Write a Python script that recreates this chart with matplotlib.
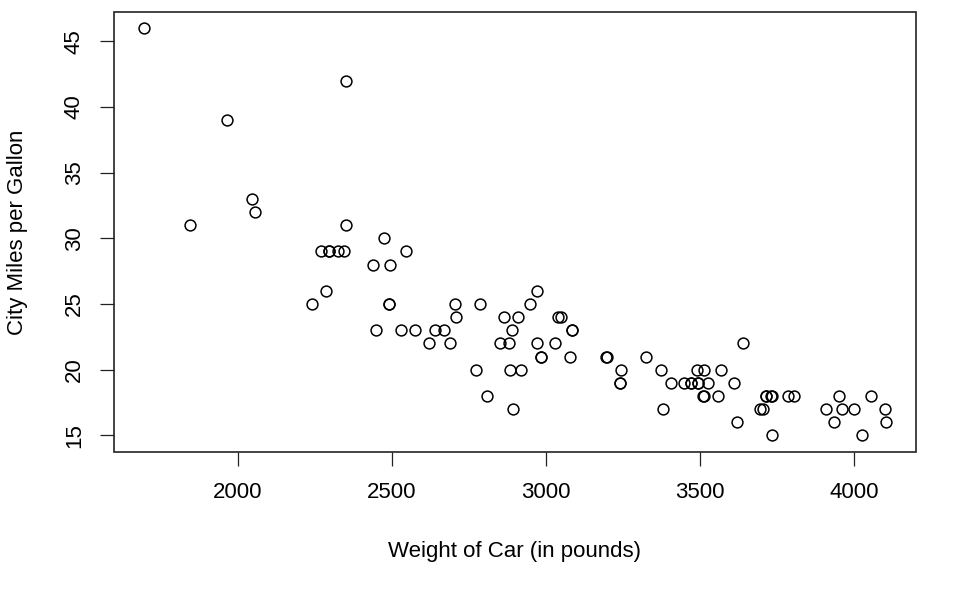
import matplotlib
matplotlib.use('Agg')
import matplotlib.pyplot as plt

# Cars93: Weight vs MPG.city
weight = [2705, 3560, 3375, 3405, 3640, 2880, 3470, 4105, 3495, 3620,
          3935, 2490, 2785, 3240, 3195, 3715, 4025, 3910, 3380, 3515,
          3085, 3570, 2270, 2670, 2970, 3705, 3080, 3805, 2295, 3490,
          1845, 2530, 2690, 2850, 2710, 3735, 3325, 3950, 1695, 2475,
          2865, 2350, 3040, 2345, 2620, 2285, 2885, 4000, 3510, 3515,
          3695, 4055, 2325, 2440, 2970, 3735, 2895, 2920, 3525, 2450,
          3610, 2295, 3730, 2545, 3050, 4100, 3200, 2910, 2890, 3715,
          3470, 2640, 2350, 2575, 3240, 3450, 3495, 2775, 2495, 2045,
          2490, 3085, 1965, 2055, 2950, 3030, 3785, 2240, 3960, 2985,
          2810, 2985, 3245]
mpg_city = [25, 18, 20, 19, 22, 22, 19, 16, 19, 16,
            16, 25, 25, 19, 21, 18, 15, 17, 17, 20,
            23, 20, 29, 23, 22, 17, 21, 18, 29, 20,
            31, 23, 22, 22, 24, 15, 21, 18, 46, 30,
            24, 42, 24, 29, 22, 26, 20, 17, 18, 18,
            17, 18, 29, 28, 26, 18, 17, 20, 19, 23,
            19, 29, 18, 29, 24, 17, 21, 24, 23, 18,
            19, 23, 31, 23, 19, 19, 19, 20, 28, 33,
            25, 23, 39, 32, 25, 22, 18, 25, 17, 21,
            18, 21, 20]

x_ticks = [2000, 2500, 3000, 3500, 4000]
y_ticks = [15, 20, 25, 30, 35, 40, 45]

plt.rcParams['font.family'] = ['Liberation Sans', 'DejaVu Sans']

fig = plt.figure(figsize=(9.75, 5.94), dpi=100)
ax = fig.add_axes([114 / 975, 1 - 451.7 / 594, (916 - 114) / 975, (451.7 - 11.7) / 594])

ax.plot(weight, mpg_city, linestyle='none', marker='o', markersize=7.8,
        markerfacecolor='none', markeredgecolor='black', markeredgewidth=1.1)

# R-style 4% axis extension
xr = max(weight) - min(weight)
yr = max(mpg_city) - min(mpg_city)
ax.set_xlim(min(weight) - 0.04 * xr, max(weight) + 0.04 * xr)
ax.set_ylim(min(mpg_city) - 0.04 * yr, max(mpg_city) + 0.04 * yr)

ax.set_xticks(x_ticks)
ax.set_yticks(y_ticks)
ax.set_xticklabels([str(v) for v in x_ticks])
ax.set_yticklabels([str(v) for v in y_ticks], rotation=90, va='center')
ax.tick_params(direction='out', length=10, width=0.9, labelsize=16, pad=12, color='#222222')
ax.tick_params(axis='y', pad=11)
for sp in ax.spines.values():
    sp.set_visible(False)

# box around the plot region
ax.add_patch(plt.Rectangle((0, 0), 1, 1, transform=ax.transAxes, fill=False,
                           edgecolor='#222222', linewidth=1.2, clip_on=False))

fig.text(515 / 975, 1 - 551 / 594, 'Weight of Car (in pounds)', ha='center', va='center', fontsize=16)
fig.text(18 / 975, 1 - 232 / 594, 'City Miles per Gallon', ha='center', va='center',
         rotation=90, fontsize=16)

fig.savefig('out.png', dpi=100, facecolor='white')
